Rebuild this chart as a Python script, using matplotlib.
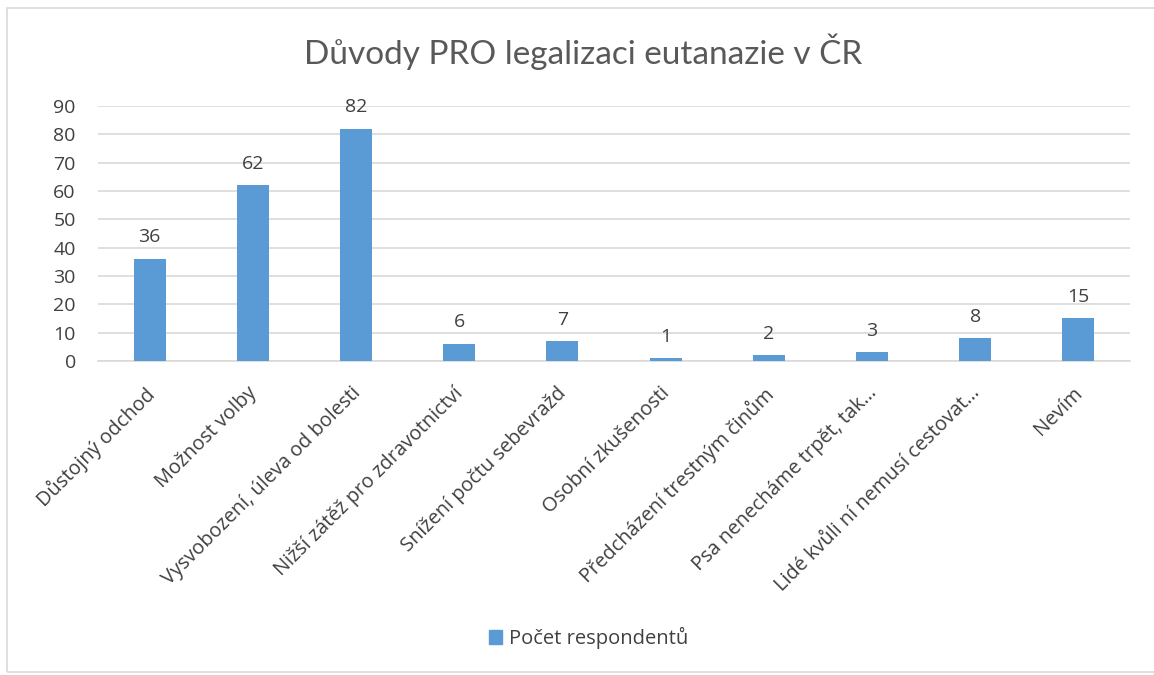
import matplotlib.pyplot as plt
from matplotlib.patches import Rectangle
from matplotlib.transforms import ScaledTranslation

plt.rcParams['font.family'] = ['Open Sans', 'DejaVu Sans']

categories = ['Důstojný odchod', 'Možnost volby', 'Vysvobození, úleva od bolesti',
              'Nižší zátěž pro zdravotnictví', 'Snížení počtu sebevražd',
              'Osobní zkušenosti', 'Předcházení trestným činům',
              'Psa nenecháme trpět, tak…', 'Lidé kvůli ní nemusí cestovat…', 'Nevím']
values = [36, 62, 82, 6, 7, 1, 2, 3, 8, 15]
yticks = [0, 10, 20, 30, 40, 50, 60, 70, 80, 90]

blue = '#5b9bd5'
text_col = '#404040'

fig = plt.figure(figsize=(11.54, 6.75), dpi=100)
fig.patches.append(Rectangle((0.006, 0.004), 1.0, 0.984, transform=fig.transFigure,
                             fill=False, edgecolor='#d9d9d9', linewidth=1.2))
ax = fig.add_axes([0.0849, 0.4652, 0.8943, 0.3778])

x = range(len(categories))
bars = ax.bar(x, values, width=0.31, color=blue, zorder=3)
for b, v in zip(bars, values):
    ax.annotate(str(v), (b.get_x() + b.get_width() / 2, v), xytext=(0, 9),
                textcoords='offset points', ha='center', va='bottom',
                fontsize=14, color=text_col)

ax.set_xlim(-0.5, len(categories) - 0.5)
ax.set_ylim(0, 90)
ax.set_yticks(yticks)
ax.yaxis.grid(True, color='#d9d9d9', linewidth=1.2, zorder=0)
ax.set_axisbelow(True)
for s in ['top', 'right', 'left']:
    ax.spines[s].set_visible(False)
ax.spines['bottom'].set_color('#d9d9d9')
ax.spines['bottom'].set_linewidth(1.2)
ax.tick_params(axis='both', length=0, labelsize=14, labelcolor=text_col)
ax.tick_params(axis='y', pad=16)
ax.set_xticks(list(x))
ax.set_xticklabels(categories, rotation=45, ha='right', rotation_mode='anchor', fontsize=14.3)
ax.tick_params(axis='x', pad=16)
shift = ScaledTranslation(-4 / 72, 0, fig.dpi_scale_trans)
for lab in ax.get_xticklabels():
    lab.set_transform(lab.get_transform() + shift)

fig.text(0.505, 0.923, 'Důvody PRO legalizaci eutanazie v ČR', ha='center', va='center',
         fontsize=24, color='#595959', family=['Lato', 'DejaVu Sans'])

fig.legend(handles=[Rectangle((0, 0), 1, 1, color=blue)], labels=['Počet respondentů'],
           loc='center', bbox_to_anchor=(0.51, 0.055), frameon=False, fontsize=14.5,
           handlelength=0.65, handleheight=0.65, handletextpad=0.35, labelcolor=text_col)

fig.savefig('out.png', dpi=100)
